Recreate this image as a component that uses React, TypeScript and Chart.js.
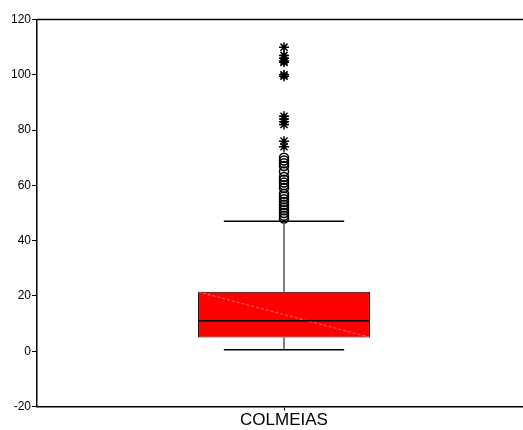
import React, { useEffect, useRef } from "react";
import { Chart, registerables } from "chart.js";

Chart.register(...registerables);

const categories = ["COLMEIAS"];
const yTicks = [-20, 0, 20, 40, 60, 80, 100, 120];
const q1 = [5];
const q3 = [21.5];
const medians = [11];
const whiskerLow = [0.5];
const whiskerHigh = [47];
const outliers = [48, 49, 50, 51, 52, 53, 54, 55, 56, 57, 59, 60, 61, 62, 63, 65, 67, 68, 69, 70];
const extremes = [74, 76, 82, 83, 84, 85, 99.5, 100, 104.5, 105, 106, 107, 110];

const boxPlugin = {
  id: "boxParts",
  afterDatasetsDraw(chart: any) {
    const { ctx, chartArea, scales } = chart;
    const x = scales.x;
    const y = scales.y;
    const meta = chart.getDatasetMeta(0);
    ctx.save();
    ctx.strokeStyle = "#000";
    ctx.lineWidth = 1.5;
    ctx.beginPath();
    ctx.moveTo(chartArea.left, chartArea.top);
    ctx.lineTo(chartArea.right, chartArea.top);
    ctx.stroke();
    categories.forEach((_, i) => {
      const bar = meta.data[i];
      const cx = x.getPixelForValue(i);
      const halfW = bar.width / 2;
      const capHalf = halfW * 0.7;
      const yQ1 = y.getPixelForValue(q1[i]);
      const yQ3 = y.getPixelForValue(q3[i]);
      ctx.strokeStyle = "rgba(255,120,120,0.9)";
      ctx.lineWidth = 1;
      ctx.setLineDash([3, 2]);
      ctx.beginPath();
      ctx.moveTo(cx - halfW, yQ3);
      ctx.lineTo(cx + halfW, yQ1);
      ctx.stroke();
      ctx.setLineDash([]);
      ctx.strokeStyle = "#555";
      ctx.lineWidth = 1.5;
      ctx.beginPath();
      ctx.moveTo(cx, yQ3);
      ctx.lineTo(cx, y.getPixelForValue(whiskerHigh[i]));
      ctx.moveTo(cx, yQ1);
      ctx.lineTo(cx, y.getPixelForValue(whiskerLow[i]));
      ctx.stroke();
      ctx.strokeStyle = "#000";
      ctx.beginPath();
      ctx.moveTo(cx - capHalf, y.getPixelForValue(whiskerHigh[i]));
      ctx.lineTo(cx + capHalf, y.getPixelForValue(whiskerHigh[i]));
      ctx.moveTo(cx - capHalf, y.getPixelForValue(whiskerLow[i]));
      ctx.lineTo(cx + capHalf, y.getPixelForValue(whiskerLow[i]));
      ctx.stroke();
      ctx.lineWidth = 1.5;
      ctx.beginPath();
      ctx.moveTo(cx - halfW, y.getPixelForValue(medians[i]));
      ctx.lineTo(cx + halfW, y.getPixelForValue(medians[i]));
      ctx.stroke();
    });
    ctx.restore();
  },
};

export default function App() {
  const ref = useRef<HTMLCanvasElement>(null);
  useEffect(() => {
    if (!ref.current) return;
    const chart = new Chart(ref.current, {
      type: "bar",
      data: {
        labels: categories,
        datasets: [
          {
            type: "bar",
            data: categories.map((_, i) => [q1[i], q3[i]]) as any,
            backgroundColor: "#ff0000",
            borderColor: "#000",
            borderWidth: 1,
            borderSkipped: false,
            categoryPercentage: 1,
            barPercentage: 0.348,
            order: 2,
          },
          {
            type: "line",
            data: outliers.map((v) => ({ x: categories[0], y: v })) as any,
            showLine: false,
            pointStyle: "circle",
            pointRadius: 4.5,
            pointBorderWidth: 1.5,
            pointBorderColor: "#000",
            pointBackgroundColor: "rgba(255,255,255,0)",
            order: 1,
          },
          {
            type: "line",
            data: extremes.map((v) => ({ x: categories[0], y: v })) as any,
            showLine: false,
            pointStyle: "star",
            pointRadius: 5,
            pointBorderWidth: 1.5,
            pointBorderColor: "#000",
            pointBackgroundColor: "#000",
            order: 1,
          },
        ],
      },
      options: {
        animation: false,
        responsive: false,
        maintainAspectRatio: false,
        layout: { autoPadding: false, padding: { top: 19.5, right: 0, left: 0, bottom: 0 } },
        plugins: { legend: { display: false }, tooltip: { enabled: false } },
        scales: {
          x: {
            offset: true,
            grid: { display: true, drawOnChartArea: false, offset: false, tickLength: 4, color: "#000" },
            border: { display: true, color: "#000", width: 1.5 },
            ticks: {
              color: "#000",
              font: { family: "Liberation Sans", size: 17 },
              padding: 0,
            },
            afterFit: (s: any) => {
              s.height = 23.5;
            },
          },
          y: {
            min: -20,
            max: 120,
            afterBuildTicks: (s: any) => {
              s.ticks = yTicks.map((v) => ({ value: v }));
            },
            grid: { display: true, drawOnChartArea: false, tickLength: 5, color: "#000" },
            border: { display: true, color: "#000", width: 1.5 },
            ticks: {
              color: "#000",
              font: { family: "Liberation Sans", size: 12 },
              padding: 1,
            },
            afterFit: (s: any) => {
              s.width = 37;
            },
          },
        },
      },
      plugins: [boxPlugin],
    });
    return () => chart.destroy();
  }, []);
  return (
    <div style={{ position: "fixed", left: 0, top: 0, width: 523, height: 430, overflow: "hidden", background: "#fff" }}>
      <canvas ref={ref} width={531} height={430} style={{ width: 531, height: 430, display: "block" }} />
    </div>
  );
}
